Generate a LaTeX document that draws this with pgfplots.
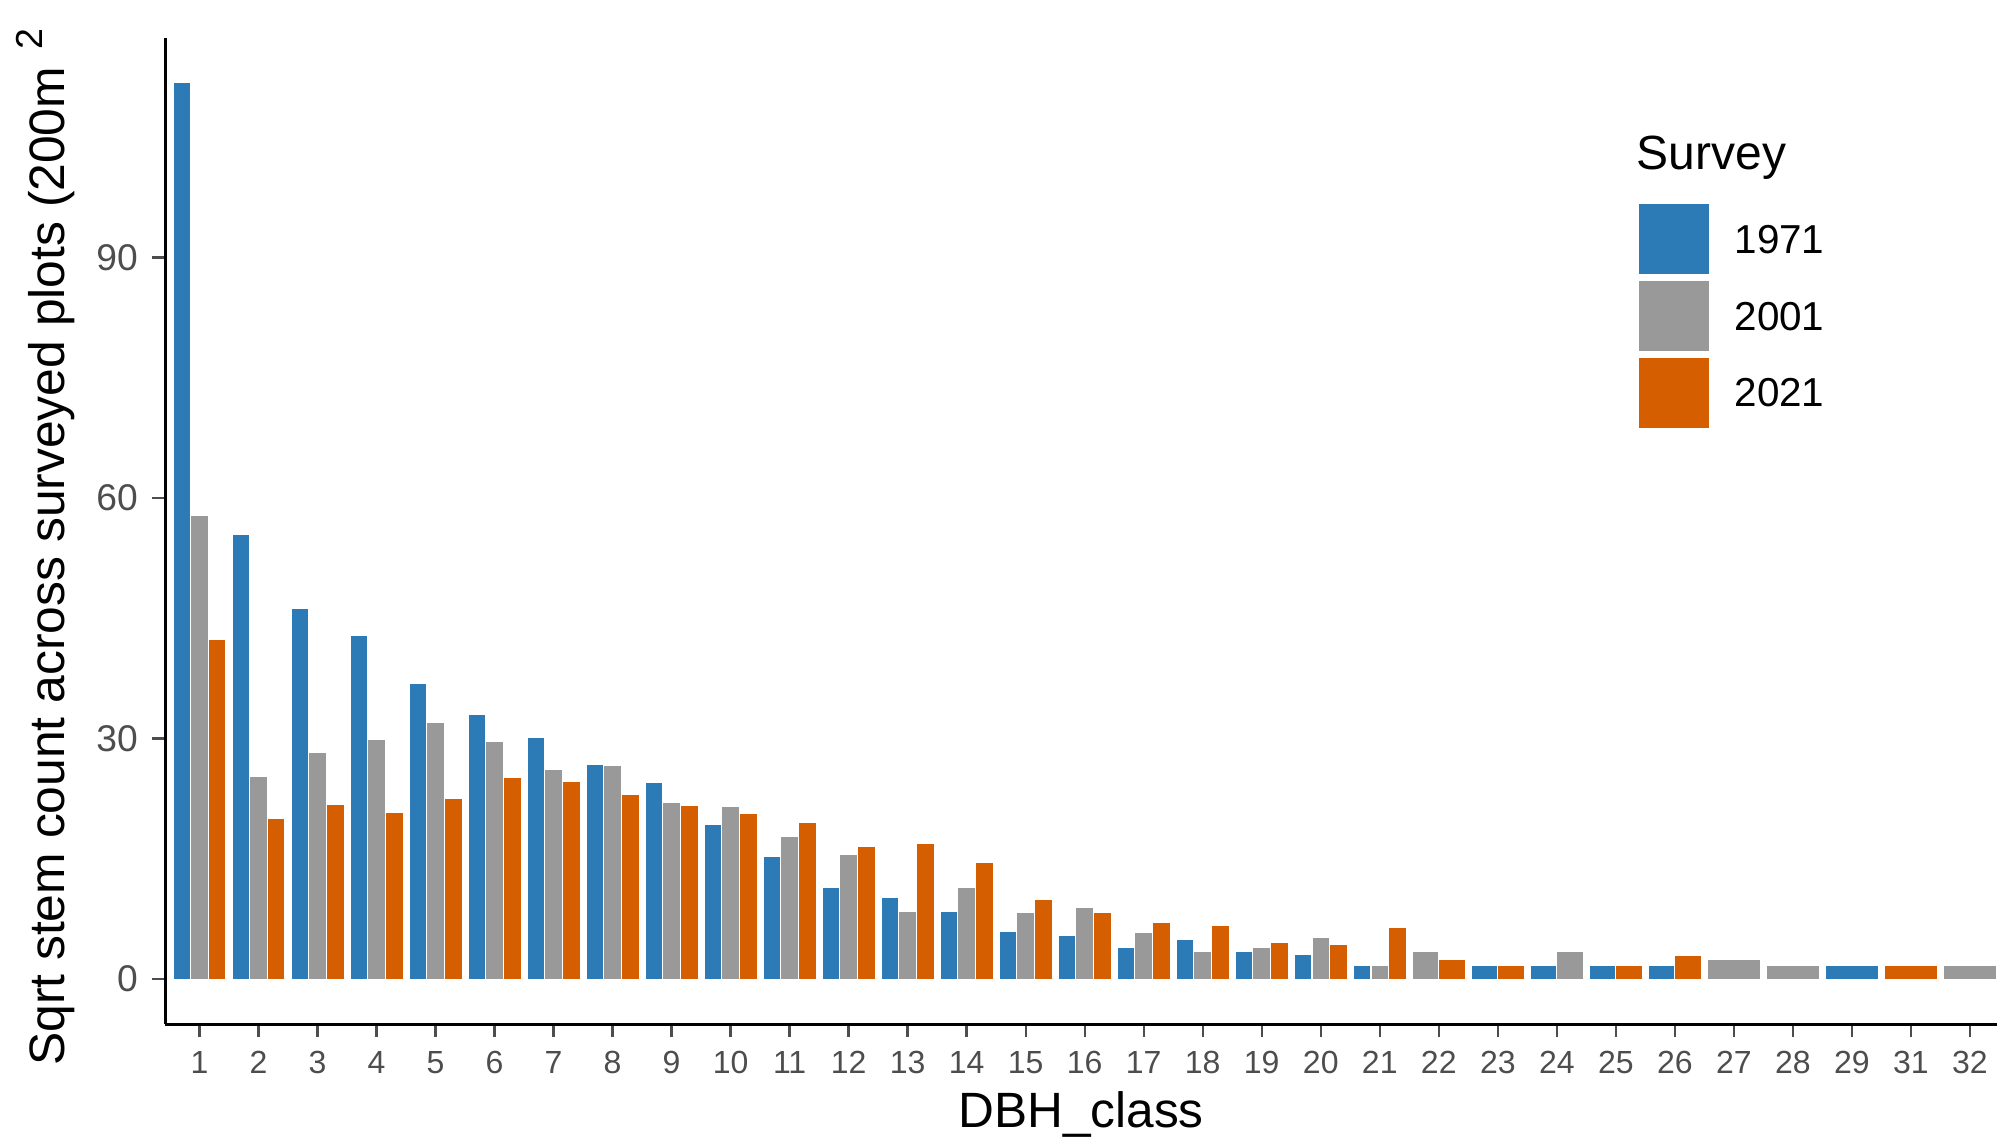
\documentclass[border=0pt]{standalone}
\usepackage{fontspec}
\setmainfont{Liberation Sans}
\usepackage{graphicx}
\usepackage{pgfplots}
\pgfplotsset{compat=1.18}
\definecolor{c71}{HTML}{2C7BB6}
\definecolor{c01}{HTML}{999999}
\definecolor{c21}{HTML}{D55E00}
\definecolor{g30}{HTML}{4D4D4D}
\pgfplotsset{
  sqlegend/.style={legend image code/.code={\fill[##1] (0pt,-8.9pt) rectangle (17.8pt,8.9pt);}},
  barbase/.style={ybar, draw=white, line width=0.3pt},
}
\begin{document}
\begin{tikzpicture}[x=1pt,y=1pt]
\useasboundingbox (-41.25pt,-28.25pt) rectangle (458pt,256pt);
\begin{axis}[
  scale only axis, width=458pt, height=246.5pt,
  xmin=0.415, xmax=31.46, ymin=-5.6, ymax=117.4,
  axis x line*=bottom, axis y line*=left,
  axis line style={line width=0.75pt, black},
  xtick={1,...,31},
  xticklabels={1,2,3,4,5,6,7,8,9,10,11,12,13,14,15,16,17,18,19,20,21,22,23,24,25,26,27,28,29,31,32},
  ytick={0,30,60,90},
  tick align=outside, major tick length=3.25pt,
  tick style={g30, line width=0.6pt},
  /pgf/number format/assume math mode=true,
  xticklabel style={font=\fontsize{8}{9.6}\selectfont, text=g30},
  yticklabel style={font=\fontsize{9.3}{11}\selectfont, text=g30},
  xlabel={DBH\_class},
  xlabel style={at={(axis description cs:0.5,-0.1045)}, anchor=base, font=\fontsize{12.4}{14}\selectfont},
  ylabel={Sqrt stem count across surveyed plots (200m\hspace{4.3pt}\raisebox{0.45em}{\fontsize{9.4}{11}\selectfont 2}\hspace{12pt})},
  ylabel style={at={(axis description cs:-0.0549,-0.0568)}, anchor=base west, rotate=0, font=\fontsize{12.45}{15}\selectfont},
  legend style={at={(0.8037,0.8333)}, anchor=north west, draw=none, fill=none, inner sep=0pt,
    row sep=1.05pt, column sep=4pt, font=\fontsize{10.1}{11}\selectfont, nodes={yshift=-0.8pt}},
  legend cell align=left,
]
% three-bar categories
\addplot[barbase, fill=c71, bar width=0.3, bar shift=-0.3, sqlegend] coordinates {
(1,111.8) (2,55.5) (3,46.2) (4,42.9) (5,36.9) (6,33.0) (7,30.1) (8,26.8) (9,24.5) (10,19.3)
(11,15.3) (12,11.4) (13,10.2) (14,8.4) (15,6.0) (16,5.5) (17,3.9) (18,5.0) (19,3.5) (20,3.1) (21,1.73)};
\addlegendentry{1971}
\addplot[barbase, fill=c01, bar width=0.3, bar shift=0, sqlegend] coordinates {
(1,57.8) (2,25.3) (3,28.3) (4,29.9) (5,32.0) (6,29.7) (7,26.2) (8,26.6) (9,22.1) (10,21.5)
(11,17.8) (12,15.6) (13,8.4) (14,11.4) (15,8.3) (16,8.9) (17,5.8) (18,3.5) (19,3.9) (20,5.2) (21,1.73)};
\addlegendentry{2001}
\addplot[barbase, fill=c21, bar width=0.3, bar shift=0.3, sqlegend] coordinates {
(1,42.4) (2,20.0) (3,21.8) (4,20.8) (5,22.5) (6,25.2) (7,24.7) (8,23.1) (9,21.7) (10,20.7)
(11,19.6) (12,16.5) (13,16.9) (14,14.5) (15,9.9) (16,8.3) (17,7.1) (18,6.7) (19,4.6) (20,4.3) (21,6.4)};
\addlegendentry{2021}
% two-bar categories
\addplot[barbase, fill=c01, bar width=0.45, bar shift=-0.225, forget plot] coordinates {(22,3.46)};
\addplot[barbase, fill=c21, bar width=0.45, bar shift=0.225, forget plot] coordinates {(22,2.45)};
\addplot[barbase, fill=c71, bar width=0.45, bar shift=-0.225, forget plot] coordinates {(23,1.73) (24,1.73) (25,1.73) (26,1.73)};
\addplot[barbase, fill=c21, bar width=0.45, bar shift=0.225, forget plot] coordinates {(23,1.73) (25,1.73) (26,3.0)};
\addplot[barbase, fill=c01, bar width=0.45, bar shift=0.225, forget plot] coordinates {(24,3.46)};
% one-bar categories
\addplot[barbase, fill=c01, bar width=0.9, bar shift=0, forget plot] coordinates {(27,2.45) (28,1.73) (31,1.73)};
\addplot[barbase, fill=c71, bar width=0.9, bar shift=0, forget plot] coordinates {(29,1.73)};
\addplot[barbase, fill=c21, bar width=0.9, bar shift=0, forget plot] coordinates {(30,1.73)};
\end{axis}
\node[anchor=base west, font=\fontsize{12}{14}\selectfont, inner sep=0pt] at (367.75pt,213.7pt) {Survey};
\end{tikzpicture}
\end{document}
